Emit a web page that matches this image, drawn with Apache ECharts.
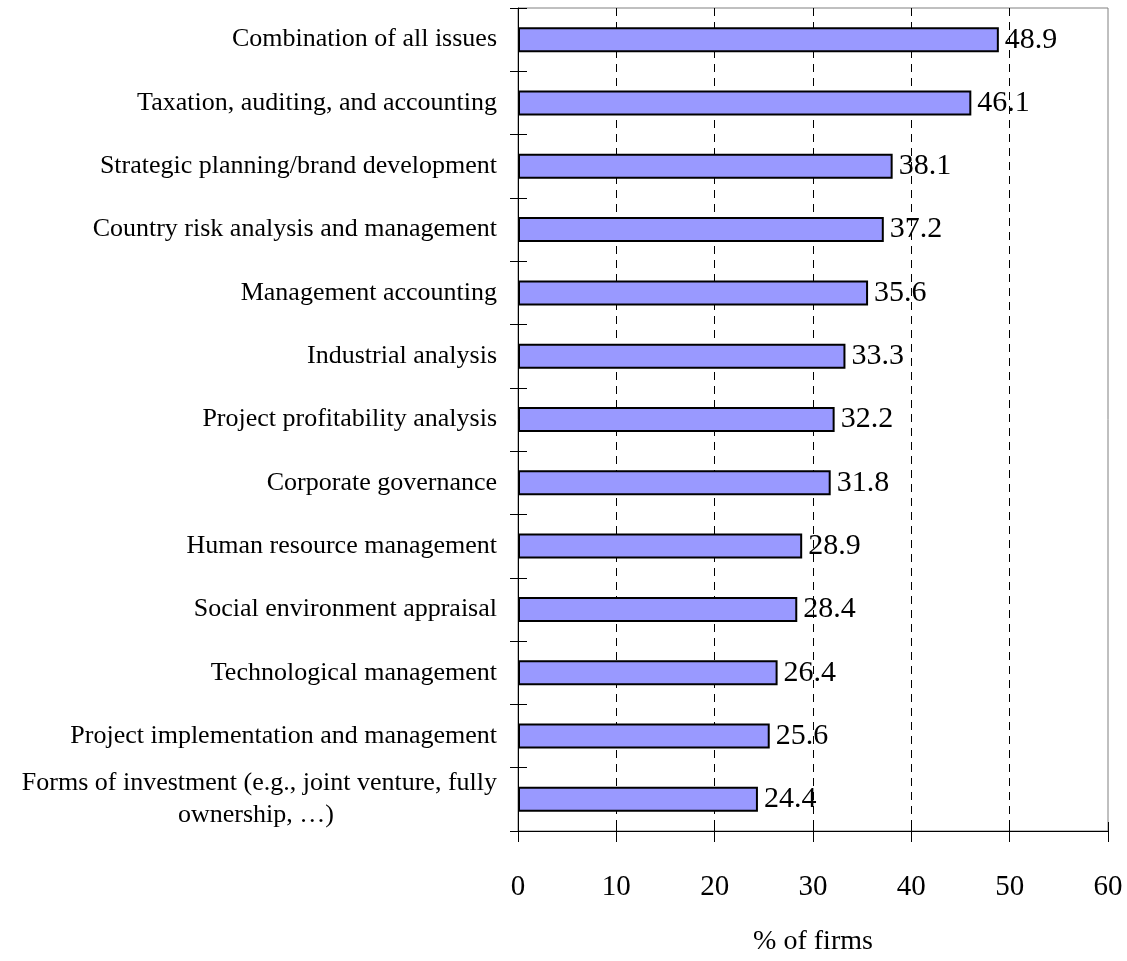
<!DOCTYPE html>
<html>
<head>
<meta charset="utf-8">
<script src="https://cdn.jsdelivr.net/npm/echarts@6/dist/echarts.min.js"></script>
<style>
html,body{margin:0;padding:0;background:#fff;}
#chart{width:1127px;height:961px;}
</style>
</head>
<body>
<div id="chart"></div>
<script>
const categories = [
  "Combination of all issues",
  "Taxation, auditing, and accounting",
  "Strategic planning/brand development",
  "Country risk analysis and management",
  "Management accounting",
  "Industrial analysis",
  "Project profitability analysis",
  "Corporate governance",
  "Human resource management",
  "Social environment appraisal",
  "Technological management",
  "Project implementation and management",
  "Forms of investment (e.g., joint venture, fully ownership, …)"
];
const values = [48.9, 46.1, 38.1, 37.2, 35.6, 33.3, 32.2, 31.8, 28.9, 28.4, 26.4, 25.6, 24.4];
const xTicks = [0, 10, 20, 30, 40, 50, 60];
const axisTitle = "% of firms";

const FONT = '"Liberation Serif", "Times New Roman", serif';
const chart = echarts.init(document.getElementById('chart'));

function catLabel(v) {
  if (v.length > 50) {
    const cut = v.lastIndexOf(' ', 48);
    return '{a|' + v.slice(0, cut) + '}\n{b|' + v.slice(cut + 1) + '}';
  }
  return v;
}

chart.setOption({
  animation: false,
  backgroundColor: '#fff',
  grid: {
    left: 518, right: 19, top: 8, bottom: 130,
    outerBoundsMode: 'none', containLabel: false,
    show: true, borderColor: '#808080', borderWidth: 1
  },
  xAxis: [{
    type: 'value',
    min: xTicks[0], max: xTicks[xTicks.length - 1], interval: 10,
    position: 'bottom',
    axisLine: { show: true, lineStyle: { color: '#000', width: 1 } },
    axisTick: { show: true, length: 11, lineStyle: { color: '#000' } },
    axisLabel: { margin: 42, fontSize: 29, color: '#000', fontFamily: FONT },
    splitLine: { show: true, showMinLine: false, showMaxLine: false,
      lineStyle: { color: '#000', type: [8, 6], width: 1 } },
    name: axisTitle, nameLocation: 'middle', nameGap: 97,
    nameTextStyle: { fontSize: 28, color: '#000', fontFamily: FONT }
  }, {
    type: 'value',
    min: xTicks[0], max: xTicks[xTicks.length - 1], interval: 10,
    position: 'bottom',
    axisLine: { show: false },
    axisTick: { show: true, inside: true, length: 9, lineStyle: { color: '#000' } },
    axisLabel: { show: false },
    splitLine: { show: false }
  }],
  yAxis: [{
    type: 'category',
    data: categories,
    inverse: true,
    position: 'left',
    axisLine: { show: true, lineStyle: { color: '#000', width: 1 } },
    axisTick: { show: true, length: 8, lineStyle: { color: '#000' } },
    axisLabel: {
      margin: 21, fontSize: 26, color: '#000', fontFamily: FONT,
      formatter: catLabel,
      rich: {
        a: { fontSize: 26, fontFamily: FONT, color: '#000', lineHeight: 32 },
        b: { fontSize: 26, fontFamily: FONT, color: '#000', lineHeight: 32, width: 482, align: 'center' }
      }
    },
    splitLine: { show: false }
  }, {
    type: 'category',
    data: categories,
    inverse: true,
    position: 'left',
    axisLine: { show: false },
    axisTick: { show: true, inside: true, length: 9, lineStyle: { color: '#000' } },
    axisLabel: { show: false },
    splitLine: { show: false }
  }],
  series: [{
    type: 'bar',
    data: values,
    xAxisIndex: 0,
    yAxisIndex: 0,
    barWidth: 25,
    itemStyle: { color: '#9999FF', borderColor: '#000', borderWidth: 2 },
    label: {
      show: true, position: 'right', distance: 6,
      fontSize: 30, color: '#000', fontFamily: FONT
    }
  }]
});
</script>
</body>
</html>
